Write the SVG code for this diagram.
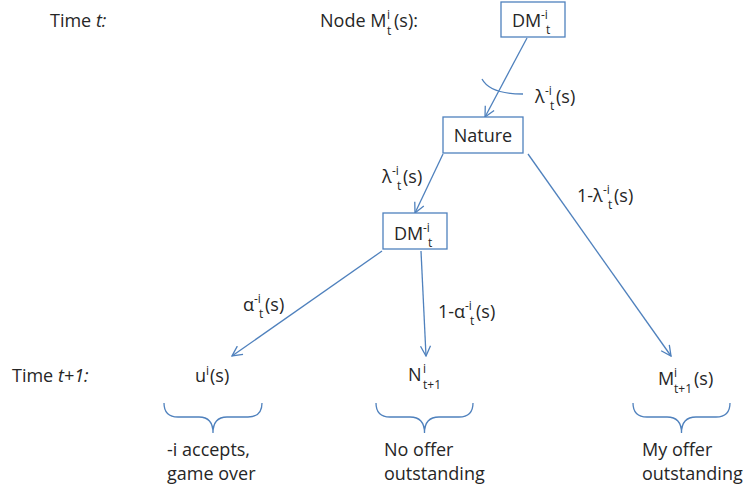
<svg xmlns="http://www.w3.org/2000/svg" width="745" height="493" viewBox="0 0 745 493">
<defs>
<style>
text{font-family:"Open Sans","Liberation Sans",sans-serif;font-size:18px;fill:#262626}
.s{font-size:12px}
.box{fill:#fff;stroke:#4F81BD;stroke-width:1.3}
.ln{fill:none;stroke:#4F81BD;stroke-width:1.3}
.it{font-style:italic}
</style>
<marker id="ah" viewBox="0 0 12 12" refX="11" refY="6" markerWidth="12" markerHeight="12" markerUnits="userSpaceOnUse" orient="auto">
<path d="M1,1 L11,6 L1,11" fill="none" stroke="#4F81BD" stroke-width="1.3"/>
</marker>
</defs>
<rect width="745" height="493" fill="#fff"/>

<g id="labels-time">
<text x="50" y="27">Time <tspan class="it">t:</tspan></text>
<text x="12" y="382">Time <tspan class="it">t+1:</tspan></text>
<text x="320" y="27">Node M<tspan class="s" x="387" y="19">i</tspan><tspan class="s" x="387" y="35">t</tspan><tspan x="394" y="27">(s):</tspan></text>
</g>

<g id="connectors">
<line class="ln" x1="527" y1="38" x2="485" y2="117" marker-end="url(#ah)"/>
<path class="ln" d="M482,79 Q490,94 523,94"/>
<line class="ln" x1="443" y1="154" x2="415" y2="213" marker-end="url(#ah)"/>
<line class="ln" x1="528" y1="154" x2="671" y2="356" marker-end="url(#ah)"/>
<line class="ln" x1="382" y1="251" x2="232" y2="356" marker-end="url(#ah)"/>
<line class="ln" x1="421" y1="251" x2="426" y2="356" marker-end="url(#ah)"/>
<text x="535" y="103">λ<tspan class="s" x="545" y="95">-i</tspan><tspan class="s" x="550" y="110">t</tspan><tspan x="556" y="103">(s)</tspan></text>
<text x="382" y="183">λ<tspan class="s" x="392" y="175">-i</tspan><tspan class="s" x="397" y="190">t</tspan><tspan x="403" y="183">(s)</tspan></text>
<text x="577" y="202">1-λ<tspan class="s" x="603" y="194">-i</tspan><tspan class="s" x="608" y="209">t</tspan><tspan x="614" y="202">(s)</tspan></text>
<text x="243" y="311">α<tspan class="s" x="254" y="303">-i</tspan><tspan class="s" x="259" y="318">t</tspan><tspan x="265" y="311">(s)</tspan></text>
<text x="438" y="318">1-α<tspan class="s" x="465" y="310">-i</tspan><tspan class="s" x="470" y="325">t</tspan><tspan x="476" y="318">(s)</tspan></text>
</g>

<g id="node-dm1">
<rect class="box" x="501" y="2" width="64" height="35"/>
<text x="512" y="27">DM<tspan class="s" x="541" y="19">-i</tspan><tspan class="s" x="546" y="34">t</tspan></text>
</g>

<g id="node-nature">
<rect class="box" x="443" y="117" width="80" height="36"/>
<text x="483" y="142" text-anchor="middle">Nature</text>
</g>

<g id="node-dm2">
<rect class="box" x="383" y="213" width="64" height="36"/>
<text x="394" y="240">DM<tspan class="s" x="423" y="232">-i</tspan><tspan class="s" x="428" y="247">t</tspan></text>
</g>

<g id="node-u">
<text x="195" y="382">u<tspan class="s" x="206" y="375">i</tspan><tspan x="210" y="382">(s)</tspan></text>
<path class="ln" d="M164,403 Q164,417 178,417 L199,417 Q213,417 213,433 Q213,417 227,417 L248,417 Q262,417 262,403"/>
<text x="167" y="456">-i accepts,</text>
<text x="167" y="480">game over</text>
</g>

<g id="node-n">
<text x="408" y="381">N<tspan class="s" x="423" y="373">i</tspan><tspan class="s" x="423" y="389">t+1</tspan></text>
<path class="ln" d="M376,403 Q376,417 390,417 L410,417 Q424.5,417 424.5,433 Q424.5,417 439,417 L459,417 Q473,417 473,403"/>
<text x="384" y="456">No offer</text>
<text x="384" y="480">outstanding</text>
</g>

<g id="node-m">
<text x="658" y="385">M<tspan class="s" x="674" y="377">i</tspan><tspan class="s" x="674" y="393">t+1</tspan><tspan x="694" y="385">(s)</tspan></text>
<path class="ln" d="M633,403 Q633,417 647,417 L667,417 Q681.5,417 681.5,433 Q681.5,417 696,417 L716,417 Q730,417 730,403"/>
<text x="642" y="456">My offer</text>
<text x="642" y="480">outstanding</text>
</g>
</svg>
